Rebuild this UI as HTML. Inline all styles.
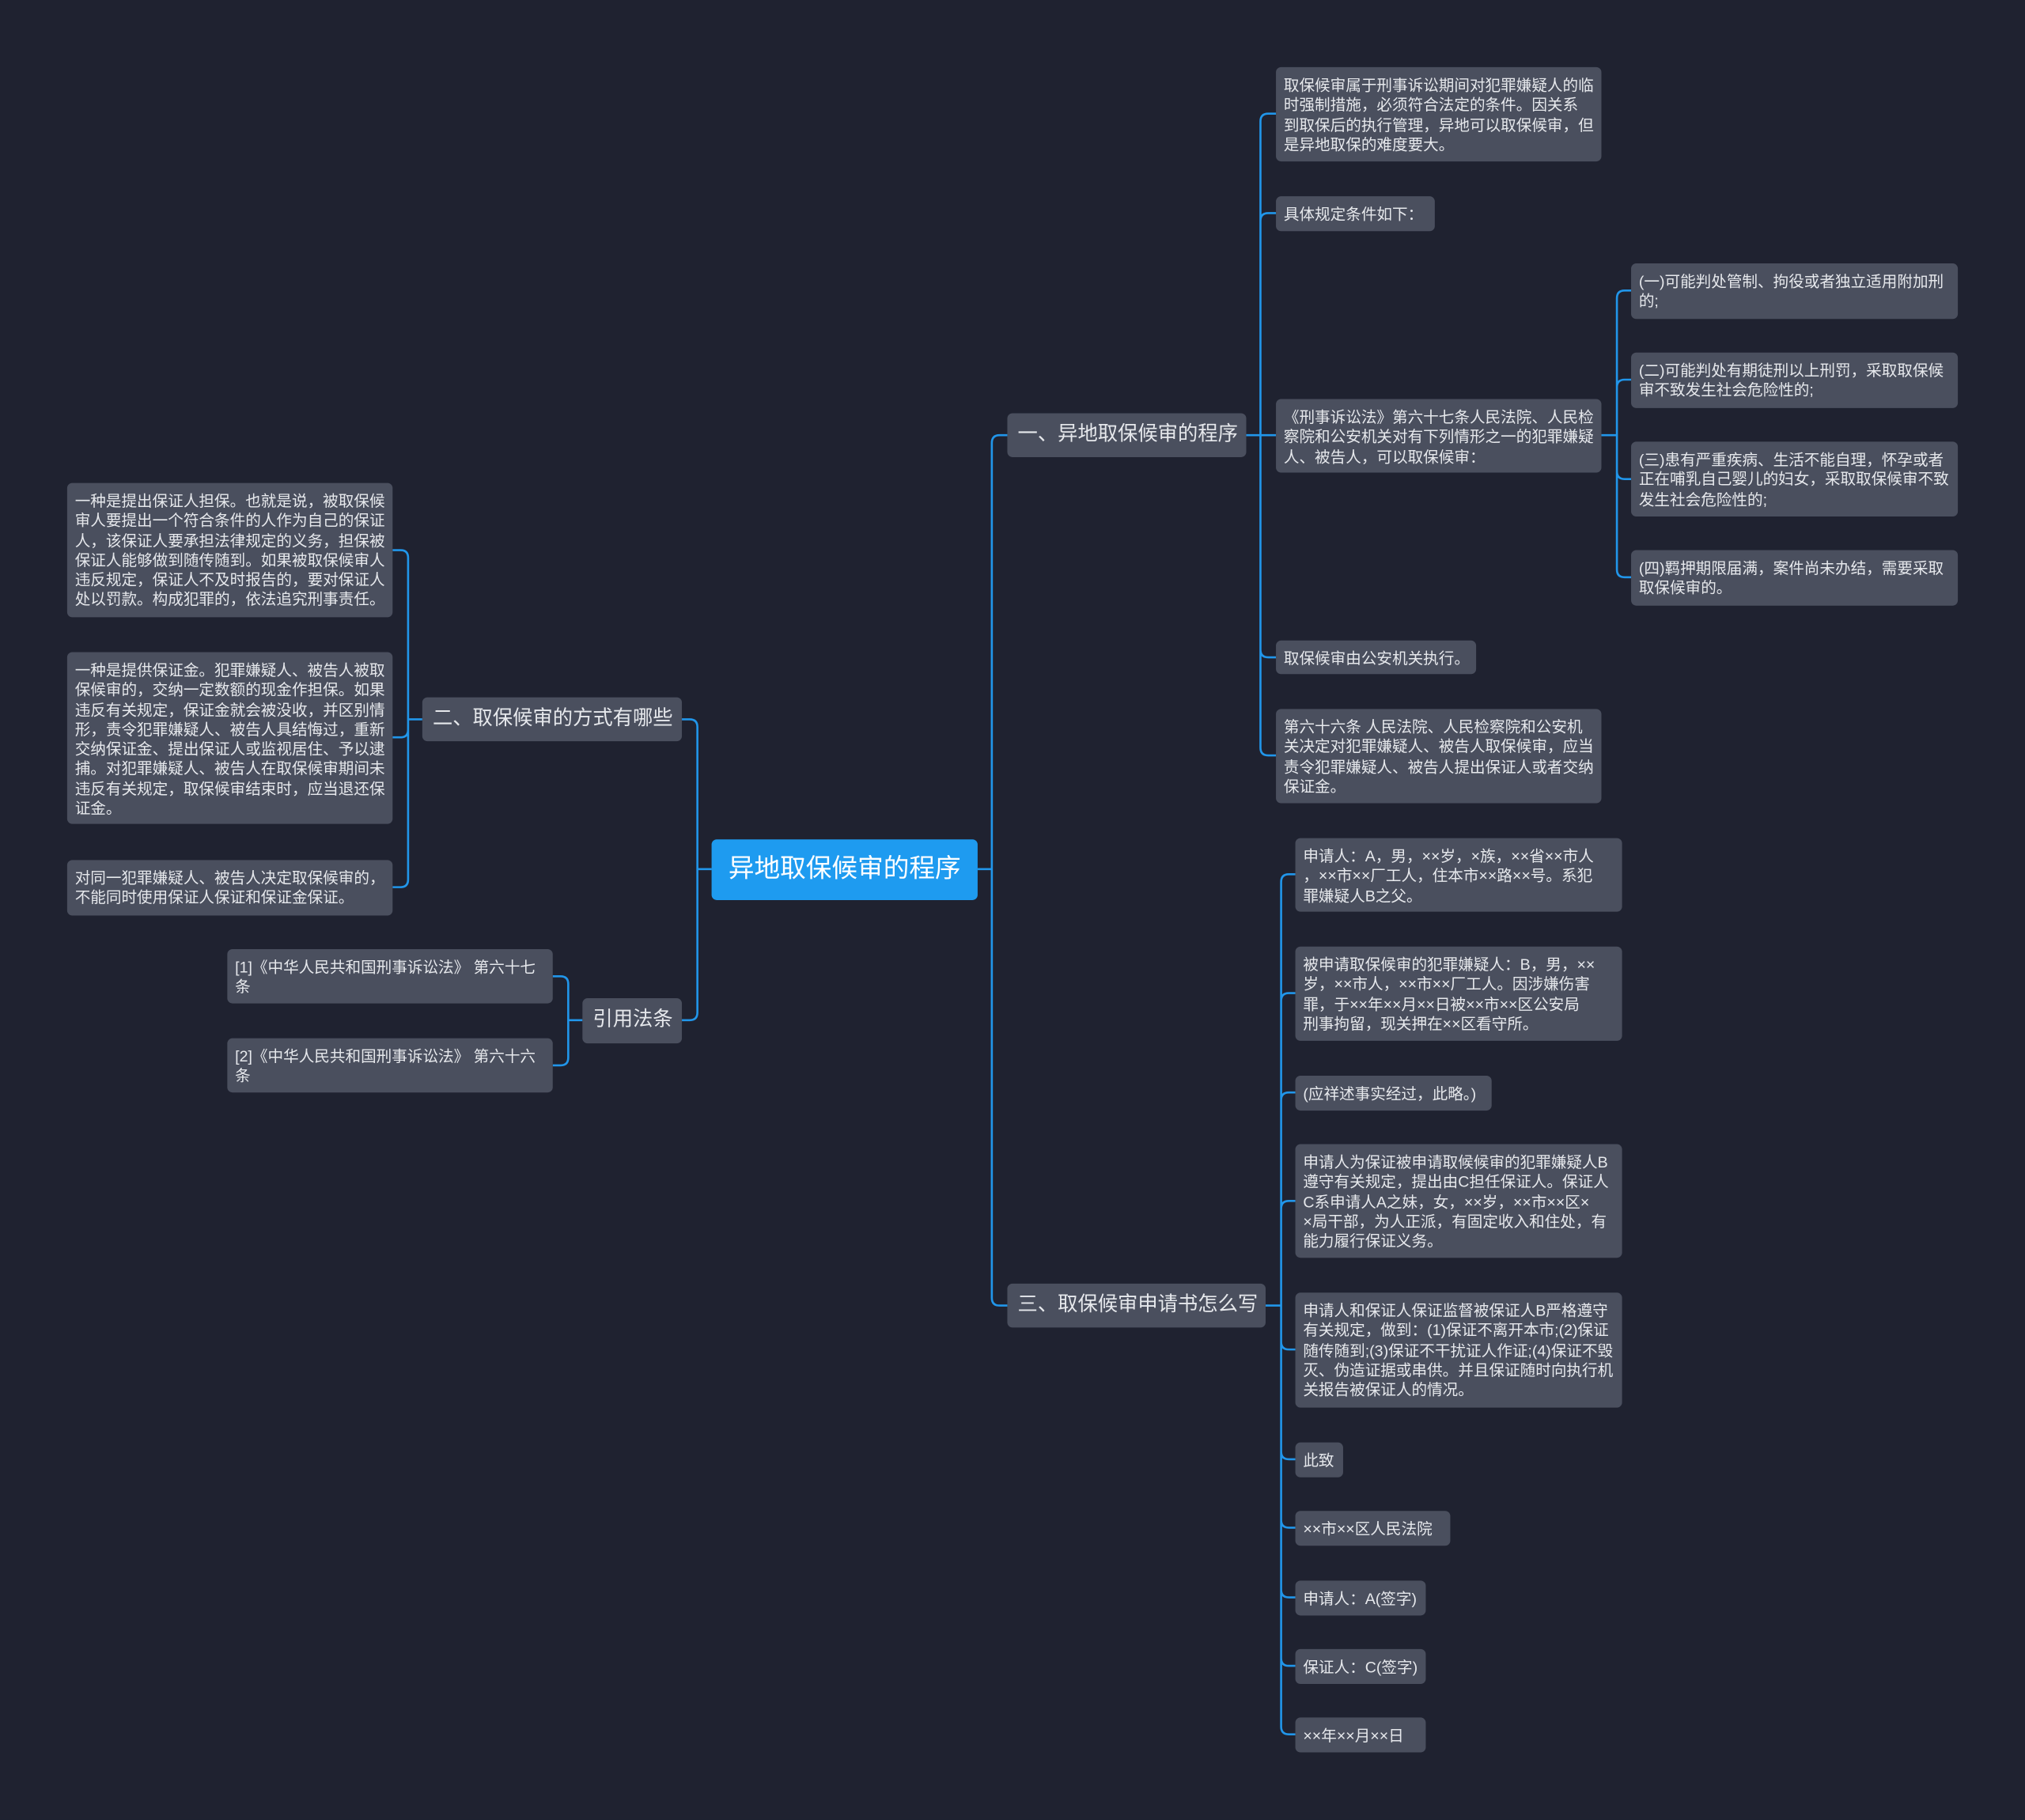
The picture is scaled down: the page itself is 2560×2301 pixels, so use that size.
<!DOCTYPE html>
<html><head><meta charset="utf-8"><style>
html,body{margin:0;padding:0;background:#1f2230;}
#wrap{position:absolute;left:0;top:0;width:1568px;height:1409px;transform:scale(1.63265);transform-origin:0 0;background:#1f2230;overflow:hidden;}
.n{position:absolute;background:#4a4f5e;color:#e6e8ec;border-radius:4px;font-family:"Liberation Sans","Noto Sans CJK SC",sans-serif;font-size:12px;line-height:15.3px;padding:7px 6px 5px 6px;box-sizing:border-box;white-space:nowrap;overflow:hidden;}
.b{font-size:15.5px;line-height:34px;padding:0 8px;}
.c{background:#1e9bf0;color:#fff;font-size:20px;line-height:47px;text-align:center;padding:0;border-radius:4px;}
svg{position:absolute;left:0;top:0;}
</style></head><body><div id="wrap">
<svg width="1568" height="1409" id="s"></svg>
<div class="n c" style="left:551px;top:650px;width:206px;height:47px">异地取保候审的程序</div>
<div class="n b" style="left:780px;top:320px;width:185px;height:34px">一、异地取保候审的程序</div>
<div class="n b" style="left:780px;top:994px;width:200px;height:34px">三、取保候审申请书怎么写</div>
<div class="n b" style="left:327px;top:540px;width:201px;height:34px">二、取保候审的方式有哪些</div>
<div class="n b" style="left:451px;top:773px;width:77px;height:35px">引用法条</div>

<div class="n" style="left:988px;top:52px;width:252px;height:73px">取保候审属于刑事诉讼期间对犯罪嫌疑人的临<br>时强制措施，必须符合法定的条件。因关系<br>到取保后的执行管理，异地可以取保候审，但<br>是异地取保的难度要大。</div>
<div class="n" style="left:988px;top:152px;width:123px;height:27px">具体规定条件如下：</div>
<div class="n" style="left:988px;top:309px;width:252px;height:57px">《刑事诉讼法》第六十七条人民法院、人民检<br>察院和公安机关对有下列情形之一的犯罪嫌疑<br>人、被告人，可以取保候审：</div>
<div class="n" style="left:988px;top:496px;width:155px;height:26px">取保候审由公安机关执行。</div>
<div class="n" style="left:988px;top:549px;width:252px;height:73px">第六十六条 人民法院、人民检察院和公安机<br>关决定对犯罪嫌疑人、被告人取保候审，应当<br>责令犯罪嫌疑人、被告人提出保证人或者交纳<br>保证金。</div>

<div class="n" style="left:1263px;top:204px;width:253px;height:43px">(一)可能判处管制、拘役或者独立适用附加刑<br>的;</div>
<div class="n" style="left:1263px;top:273px;width:253px;height:43px">(二)可能判处有期徒刑以上刑罚，采取取保候<br>审不致发生社会危险性的;</div>
<div class="n" style="left:1263px;top:342px;width:253px;height:58px">(三)患有严重疾病、生活不能自理，怀孕或者<br>正在哺乳自己婴儿的妇女，采取取保候审不致<br>发生社会危险性的;</div>
<div class="n" style="left:1263px;top:426px;width:253px;height:43px">(四)羁押期限届满，案件尚未办结，需要采取<br>取保候审的。</div>

<div class="n" style="left:1003px;top:649px;width:253px;height:57px">申请人：A，男，××岁，×族，××省××市人<br>，××市××厂工人，住本市××路××号。系犯<br>罪嫌疑人B之父。</div>
<div class="n" style="left:1003px;top:733px;width:253px;height:73px">被申请取保候审的犯罪嫌疑人：B，男，××<br>岁，××市人，××市××厂工人。因涉嫌伤害<br>罪，于××年××月××日被××市××区公安局<br>刑事拘留，现关押在××区看守所。</div>
<div class="n" style="left:1003px;top:833px;width:152px;height:27px">(应祥述事实经过，此略。)</div>
<div class="n" style="left:1003px;top:886px;width:253px;height:88px">申请人为保证被申请取候候审的犯罪嫌疑人B<br>遵守有关规定，提出由C担任保证人。保证人<br>C系申请人A之妹，女，××岁，××市××区×<br>×局干部，为人正派，有固定收入和住处，有<br>能力履行保证义务。</div>
<div class="n" style="left:1003px;top:1001px;width:253px;height:89px">申请人和保证人保证监督被保证人B严格遵守<br>有关规定，做到：(1)保证不离开本市;(2)保证<br>随传随到;(3)保证不干扰证人作证;(4)保证不毁<br>灭、伪造证据或串供。并且保证随时向执行机<br>关报告被保证人的情况。</div>
<div class="n" style="left:1003px;top:1117px;width:37px;height:27px">此致</div>
<div class="n" style="left:1003px;top:1170px;width:120px;height:27px">××市××区人民法院</div>
<div class="n" style="left:1003px;top:1224px;width:101px;height:27px">申请人：A(签字)</div>
<div class="n" style="left:1003px;top:1277px;width:101px;height:27px">保证人：C(签字)</div>
<div class="n" style="left:1003px;top:1330px;width:101px;height:27px">××年××月××日</div>

<div class="n" style="left:52px;top:374px;width:252px;height:104px">一种是提出保证人担保。也就是说，被取保候<br>审人要提出一个符合条件的人作为自己的保证<br>人，该保证人要承担法律规定的义务，担保被<br>保证人能够做到随传随到。如果被取保候审人<br>违反规定，保证人不及时报告的，要对保证人<br>处以罚款。构成犯罪的，依法追究刑事责任。</div>
<div class="n" style="left:52px;top:505px;width:252px;height:133px">一种是提供保证金。犯罪嫌疑人、被告人被取<br>保候审的，交纳一定数额的现金作担保。如果<br>违反有关规定，保证金就会被没收，并区别情<br>形，责令犯罪嫌疑人、被告人具结悔过，重新<br>交纳保证金、提出保证人或监视居住、予以逮<br>捕。对犯罪嫌疑人、被告人在取保候审期间未<br>违反有关规定，取保候审结束时，应当退还保<br>证金。</div>
<div class="n" style="left:52px;top:666px;width:252px;height:43px">对同一犯罪嫌疑人、被告人决定取保候审的，<br>不能同时使用保证人保证和保证金保证。</div>
<div class="n" style="left:176px;top:735px;width:252px;height:42px">[1]《中华人民共和国刑事诉讼法》 第六十七<br>条</div>
<div class="n" style="left:176px;top:804px;width:252px;height:42px">[2]《中华人民共和国刑事诉讼法》 第六十六<br>条</div>
</div>
<script>
var s=document.getElementById('s'),d='';
function g(px,py,tx,cx,cys){var r=6;cys.forEach(function(cy){
var dir=cx>tx?1:-1;d+='M'+px+' '+py+'H'+tx;
if(Math.abs(cy-py)<r){d+='V'+cy+'H'+cx;}else{var sg=cy>py?1:-1;d+='V'+(cy-sg*r)+'Q'+tx+' '+cy+' '+(tx+dir*r)+' '+cy+'H'+cx;}});}
g(757,673,768,780,[337,1011]);
g(551,673,540,528,[557,790]);
g(965,337,976,988,[88,165,337,509,585]);
g(1240,337,1252,1263,[225,294,371,447]);
g(980,1011,992,1003,[677,769,846,930,1045,1130,1183,1237,1290,1343]);
g(327,557,316,304,[426,571,687]);
g(451,790,440,428,[756,825]);
s.innerHTML='<path d="'+d+'" fill="none" stroke="#2196ea" stroke-width="1.6"/>';
</script>
</body></html>
